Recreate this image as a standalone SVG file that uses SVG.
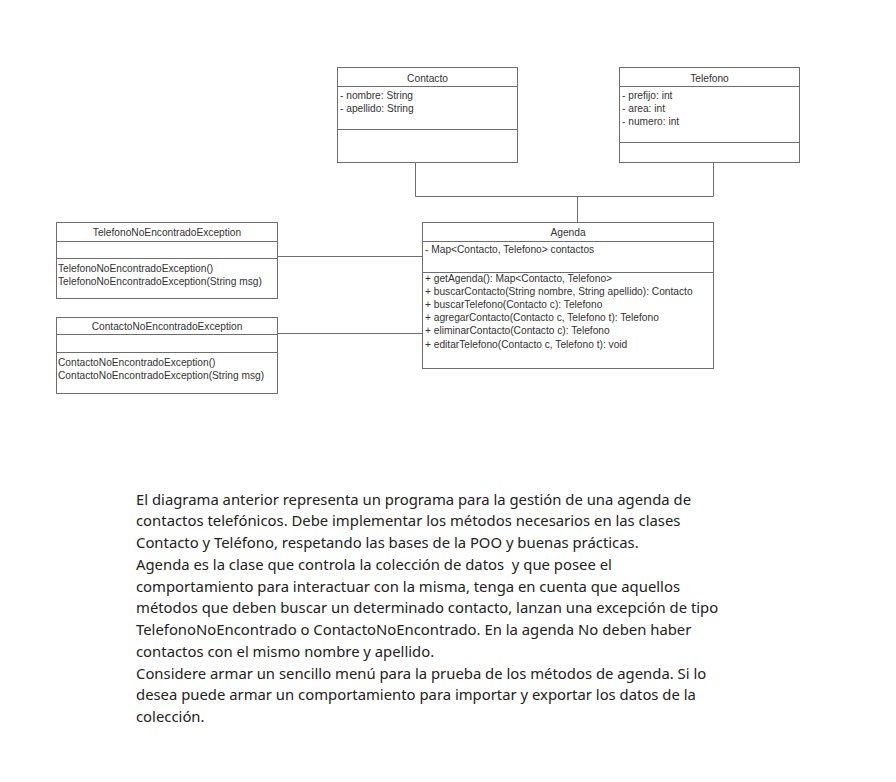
<svg xmlns="http://www.w3.org/2000/svg" width="896" height="782" viewBox="0 0 896 782">
<style>
.box{fill:#fff;stroke:#6e6e6e;stroke-width:1}
.ln{stroke:#6e6e6e;stroke-width:1;fill:none}
.t{font-family:"Liberation Sans",Arial,sans-serif;font-size:10.2px;fill:#333}
.c{text-anchor:middle}
.p{font-family:"Noto Sans","Open Sans",sans-serif;font-size:14.85px;fill:#222;white-space:pre}
</style>
<rect width="896" height="782" fill="#fff"/>
<g id="connectors">
<path class="ln" d="M415.5,162 V196.5 H713.5 V162"/>
<path class="ln" d="M577.5,196.5 V222"/>
<path class="ln" d="M278,256.5 H422"/>
<path class="ln" d="M278,333.5 H422"/>
</g>
<g id="contacto">
<rect class="box" x="337.5" y="67.5" width="180" height="95"/>
<path class="ln" d="M337.5,86.5 H517.5 M337.5,129.5 H517.5"/>
<text class="t c" x="427.5" y="81.5">Contacto</text>
<text class="t" x="340" y="98.5">- nombre: String</text>
<text class="t" x="340" y="111.5">- apellido: String</text>
</g>
<g id="telefono">
<rect class="box" x="619.5" y="67.5" width="180" height="95"/>
<path class="ln" d="M619.5,86.5 H799.5 M619.5,142.5 H799.5"/>
<text class="t c" x="709.5" y="81.5">Telefono</text>
<text class="t" x="622" y="98.5">- prefijo: int</text>
<text class="t" x="622" y="111.5">- area: int</text>
<text class="t" x="622" y="124.5">- numero: int</text>
</g>
<g id="agenda">
<rect class="box" x="422.5" y="222.5" width="291" height="146"/>
<path class="ln" d="M422.5,241.5 H713.5 M422.5,272.5 H713.5"/>
<text class="t c" x="568" y="235.5">Agenda</text>
<text class="t" x="425" y="252.5">- Map&lt;Contacto, Telefono&gt; contactos</text>
<text class="t" x="425" y="282">+ getAgenda(): Map&lt;Contacto, Telefono&gt;</text>
<text class="t" x="425" y="295.1">+ buscarContacto(String nombre, String apellido): Contacto</text>
<text class="t" x="425" y="308.2">+ buscarTelefono(Contacto c): Telefono</text>
<text class="t" x="425" y="321.3">+ agregarContacto(Contacto c, Telefono t): Telefono</text>
<text class="t" x="425" y="334.4">+ eliminarContacto(Contacto c): Telefono</text>
<text class="t" x="425" y="347.5">+ editarTelefono(Contacto c, Telefono t): void</text>
</g>
<g id="telefonoNoEncontradoException">
<rect class="box" x="56.5" y="222.5" width="221" height="76"/>
<path class="ln" d="M56.5,241.5 H277.5 M56.5,258.5 H277.5"/>
<text class="t c" x="167" y="235.5">TelefonoNoEncontradoException</text>
<text class="t" x="58" y="271.5">TelefonoNoEncontradoException()</text>
<text class="t" x="58" y="284.5">TelefonoNoEncontradoException(String msg)</text>
</g>
<g id="contactoNoEncontradoException">
<rect class="box" x="56.5" y="317.5" width="221" height="76"/>
<path class="ln" d="M56.5,334.5 H277.5 M56.5,352.5 H277.5"/>
<text class="t c" x="167" y="330">ContactoNoEncontradoException</text>
<text class="t" x="58" y="365.5">ContactoNoEncontradoException()</text>
<text class="t" x="58" y="378.5">ContactoNoEncontradoException(String msg)</text>
</g>
<g id="description">
<text class="p" x="136" y="504.5">El diagrama anterior representa un programa para la gestión de una agenda de</text>
<text class="p" x="136" y="526.2">contactos telefónicos. Debe implementar los métodos necesarios en las clases</text>
<text class="p" x="136" y="548">Contacto y Teléfono, respetando las bases de la POO y buenas prácticas.</text>
<text class="p" x="136" y="569.7">Agenda es la clase que controla la colección de datos  y que posee el</text>
<text class="p" x="136" y="591.5">comportamiento para interactuar con la misma, tenga en cuenta que aquellos</text>
<text class="p" x="136" y="613.2">métodos que deben buscar un determinado contacto, lanzan una excepción de tipo</text>
<text class="p" x="136" y="635">TelefonoNoEncontrado o ContactoNoEncontrado. En la agenda No deben haber</text>
<text class="p" x="136" y="656.7">contactos con el mismo nombre y apellido.</text>
<text class="p" x="136" y="678.5">Considere armar un sencillo menú para la prueba de los métodos de agenda. Si lo</text>
<text class="p" x="136" y="700.2">desea puede armar un comportamiento para importar y exportar los datos de la</text>
<text class="p" x="136" y="722">colección.</text>
</g>
</svg>
